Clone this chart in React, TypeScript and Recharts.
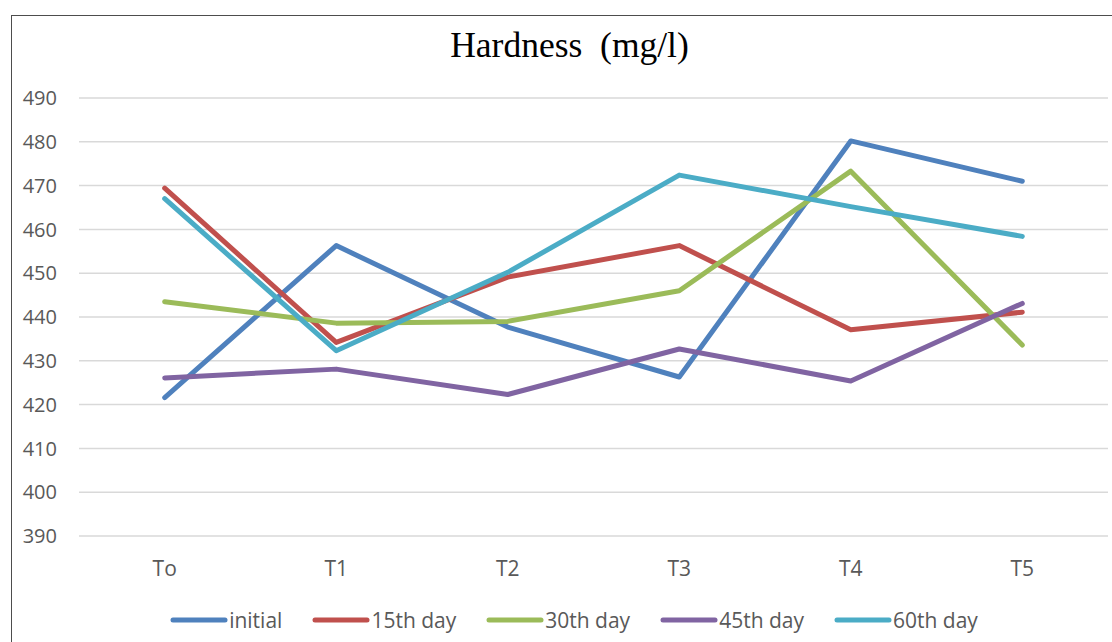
import { CartesianGrid, Legend, Line, LineChart, XAxis, YAxis } from "recharts";

const stages = ["To", "T1", "T2", "T3", "T4", "T5"];
const initial = [421.6, 456.3, 437.7, 426.3, 480.2, 471.0];
const day15 = [469.4, 434.2, 449.1, 456.3, 437.1, 441.1];
const day30 = [443.5, 438.6, 439.0, 446.0, 473.3, 433.6];
const day45 = [426.1, 428.1, 422.3, 432.7, 425.4, 443.1];
const day60 = [467.0, 432.3, 450.2, 472.4, 465.2, 458.4];
const yTicks = [390, 400, 410, 420, 430, 440, 450, 460, 470, 480, 490];

const series = [
  { key: "initial", values: initial, color: "#4F81BD" },
  { key: "15th day", values: day15, color: "#C0504D" },
  { key: "30th day", values: day30, color: "#9BBB59" },
  { key: "45th day", values: day45, color: "#8064A2" },
  { key: "60th day", values: day60, color: "#4BACC6" },
];

const data = stages.map((stage, i) => {
  const row: Record<string, string | number> = { stage };
  for (const s of series) row[s.key] = s.values[i];
  return row;
});

const textFont = "'Open Sans', 'Noto Sans', sans-serif";

// keep the legend in series order (recharts sorts its payload by name)
function LegendRow() {
  return (
    <div style={{ display: "flex", justifyContent: "center", alignItems: "center", gap: 30, height: 30 }}>
      {series.map((s) => (
        <div key={s.key} style={{ display: "flex", alignItems: "center" }}>
          <svg width={58} height={8}>
            <line x1={3} y1={4} x2={55} y2={4} stroke={s.color} strokeWidth={5} strokeLinecap="round" />
          </svg>
          <span style={{ fontFamily: textFont, fontSize: 21, color: "#595959", marginLeft: 1 }}>{s.key}</span>
        </div>
      ))}
    </div>
  );
}

export default function App() {
  return (
    <div style={{ position: "fixed", left: 0, top: 0, width: 1112, height: 642, overflow: "hidden", background: "#fff" }}>
      <div
        style={{
          position: "absolute",
          left: 11,
          top: 15,
          width: 1130,
          height: 700,
          border: "1.5px solid #4d4d4d",
          boxSizing: "border-box",
        }}
      />
      <div
        style={{
          position: "absolute",
          left: 0,
          top: 28,
          width: 1139,
          textAlign: "center",
          fontFamily: "'Liberation Serif', 'Times New Roman', serif",
          fontSize: 35.5,
          lineHeight: "34px",
          color: "#000",
          whiteSpace: "pre",
        }}
      >
        {"Hardness  (mg/l)"}
      </div>
      <div style={{ position: "absolute", left: 0, top: 0 }}>
        <LineChart width={1112} height={642} data={data} margin={{ top: 98, right: 4, bottom: 36, left: 19 }}>
          <CartesianGrid vertical={false} stroke="#d9d9d9" strokeWidth={1.5} />
          <XAxis
            dataKey="stage"
            axisLine={false}
            tickLine={false}
            tickSize={0}
            tickMargin={25}
            height={40}
            padding={{ left: 85.7, right: 85.7 }}
            tick={{ fill: "#595959", fontSize: 21, fontFamily: textFont }}
          />
          <YAxis
            domain={[390, 490]}
            ticks={yTicks}
            axisLine={false}
            tickLine={false}
            tickSize={0}
            tickMargin={22}
            width={60}
            tick={{ fill: "#595959", fontSize: 20, fontFamily: textFont }}
          />
          <Legend
            verticalAlign="bottom"
            height={30}
            content={() => <LegendRow />}
            wrapperStyle={{ top: 605, left: 18, width: 1112 }}
          />
          {series.map((s) => (
            <Line
              key={s.key}
              dataKey={s.key}
              stroke={s.color}
              strokeWidth={5}
              strokeLinejoin="round"
              strokeLinecap="round"
              dot={false}
              activeDot={false}
              isAnimationActive={false}
            />
          ))}
        </LineChart>
      </div>
    </div>
  );
}
